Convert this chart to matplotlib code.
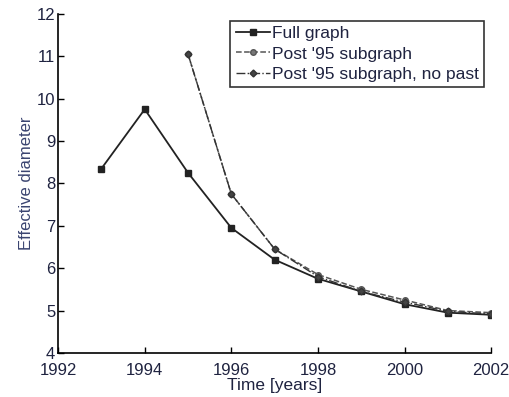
import matplotlib
matplotlib.use('Agg')
import matplotlib.pyplot as plt

# data
years_full = [1993, 1994, 1995, 1996, 1997, 1998, 1999, 2000, 2001, 2002]
diam_full = [8.35, 9.75, 8.25, 6.95, 6.2, 5.75, 5.45, 5.15, 4.95, 4.9]

years_post = [1995, 1996, 1997, 1998, 1999, 2000, 2001, 2002]
diam_post = [11.05, 7.75, 6.45, 5.85, 5.5, 5.25, 5.0, 4.95]
diam_post_nopast = [11.05, 7.75, 6.45, 5.8, 5.45, 5.2, 4.98, 4.92]

x_ticks = [1992, 1994, 1996, 1998, 2000, 2002]
y_ticks = [4, 5, 6, 7, 8, 9, 10, 11, 12]

plt.rcParams['font.family'] = ['Liberation Sans', 'DejaVu Sans']
text_color = '#1f2340'

fig = plt.figure(figsize=(5.1, 3.97), dpi=100)
# axes box: x 58..491 px, y 14..353 px
ax = fig.add_axes([0.114, 0.111, 0.849, 0.854])

ax.plot(years_full, diam_full, '-', color='#222222', linewidth=1.3,
        marker='s', markersize=4, markerfacecolor='#222222', label='Full graph')
ax.plot(years_post, diam_post, '--', color='#555555', linewidth=1.1,
        marker='o', markersize=4, markerfacecolor='#777777', markeredgecolor='#555555',
        label="Post '95 subgraph")
ax.plot(years_post, diam_post_nopast, '-.', color='#333333', linewidth=1.0,
        marker='D', markersize=3.5, markerfacecolor='#444444', markeredgecolor='#333333',
        label="Post '95 subgraph, no past")

ax.set_xlim(1992, 2002)
ax.set_ylim(4, 12)
ax.set_xticks(x_ticks)
ax.set_yticks(y_ticks)
ax.tick_params(direction='in', length=4, width=1, labelsize=12, colors='black',
               labelcolor=text_color)
ax.tick_params(axis='x', pad=7)
ax.tick_params(axis='y', pad=2)
for side in ['top', 'right']:
    ax.spines[side].set_visible(False)
for side in ['left', 'bottom']:
    ax.spines[side].set_linewidth(1.2)

ax.set_xlabel('Time [years]', fontsize=12.5, color=text_color, labelpad=0)
ax.set_ylabel('Effective diameter', fontsize=12, color='#3a4470', labelpad=2)

leg = ax.legend(loc='upper right', fontsize=12.5, frameon=True, fancybox=False,
                handlelength=2.0, handletextpad=0.1, borderpad=0.3,
                labelspacing=0.3, borderaxespad=0.4)
leg.get_frame().set_edgecolor('black')
leg.get_frame().set_linewidth(1.2)
for t in leg.get_texts():
    t.set_color(text_color)

fig.savefig('out.png', dpi=100)
